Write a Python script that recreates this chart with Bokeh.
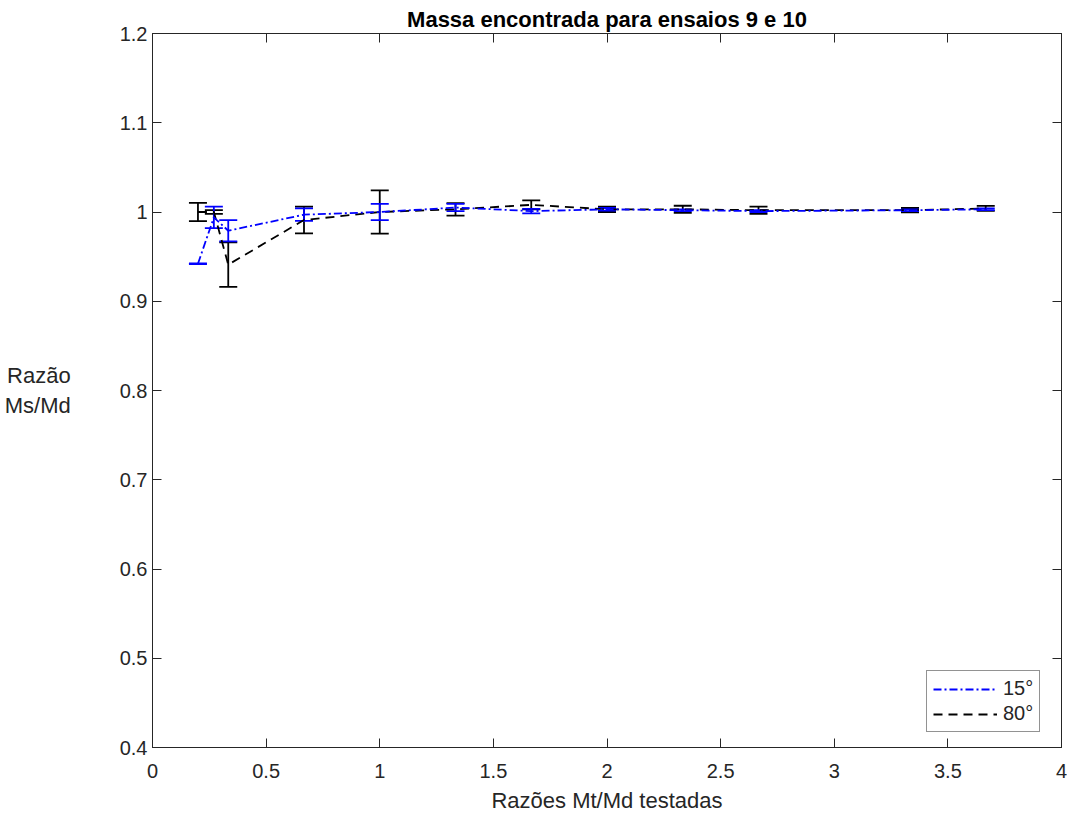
from bokeh.plotting import figure
from bokeh.models import (ColumnDataSource, Whisker, TeeHead, Range1d, LinearAxis,
                          FixedTicker, Label, Legend, LegendItem)
from bokeh.embed import file_html
from bokeh.resources import INLINE

# ---- data ----
x_vals = [0.2, 0.27, 1/3, 2/3, 1.0, 4/3, 5/3, 2.0, 7/3, 8/3, 10/3, 11/3]
y_15 = [0.942, 0.994, 0.979, 0.997, 1.000, 1.005, 1.001, 1.003, 1.002, 1.001, 1.002, 1.003]
err_15 = [0.0005, 0.012, 0.012, 0.007, 0.009, 0.004, 0.0025, 0.0015, 0.001, 0.001, 0.001, 0.001]
y_80 = [1.000, 1.000, 0.941, 0.991, 1.000, 1.003, 1.008, 1.003, 1.003, 1.002, 1.002, 1.004]
err_80 = [0.0103, 0.002, 0.025, 0.015, 0.0243, 0.007, 0.005, 0.003, 0.004, 0.004, 0.0025, 0.0028]

x_ticks = [0, 0.5, 1, 1.5, 2, 2.5, 3, 3.5, 4]
x_tick_labels = ["0", "0.5", "1", "1.5", "2", "2.5", "3", "3.5", "4"]
y_ticks = [0.4, 0.5, 0.6, 0.7, 0.8, 0.9, 1.0, 1.1, 1.2]
y_tick_labels = ["0.4", "0.5", "0.6", "0.7", "0.8", "0.9", "1", "1.1", "1.2"]

title_text = "Massa encontrada para ensaios 9 e 10"
x_label = "Razões Mt/Md testadas"
y_label = "Razão\nMs/Md"
series_names = ["15°", "80°"]

FONT = "Liberation Sans"
AX = "#262626"

p = figure(frame_width=909, frame_height=714, output_backend="svg", toolbar_location=None,
           x_range=Range1d(0, 4), y_range=Range1d(0.4, 1.2),
           min_border_left=152, min_border_right=6, min_border_top=33, min_border_bottom=69)
p.background_fill_color = "white"
p.border_fill_color = "white"
p.outline_line_color = AX
p.xgrid.visible = False
p.ygrid.visible = False

p.title.text = title_text
p.title.text_font = FONT
p.title.text_font_size = "22px"
p.title.text_font_style = "bold"
p.title.text_color = "black"
p.title.align = "center"
p.title.standoff = 4


def style_axis(ax, ticks, labels, show_labels=True):
    ax.ticker = FixedTicker(ticks=ticks)
    ax.major_tick_in = 9
    ax.major_tick_out = 0
    ax.minor_tick_in = 0
    ax.minor_tick_out = 0
    ax.axis_line_color = AX
    ax.major_tick_line_color = AX
    ax.major_label_text_color = AX
    ax.major_label_text_font = FONT
    if show_labels:
        ax.major_label_overrides = {t: l for t, l in zip(ticks, labels)}
        ax.major_label_text_font_size = "20px"
    else:
        ax.major_label_overrides = {t: "" for t in ticks}
        ax.major_label_text_font_size = "1px"
        ax.major_label_standoff = 0


style_axis(p.xaxis[0], x_ticks, x_tick_labels)
p.xaxis[0].major_label_standoff = 16
p.xaxis[0].axis_label = x_label
p.xaxis[0].axis_label_text_font = FONT
p.xaxis[0].axis_label_text_font_size = "22px"
p.xaxis[0].axis_label_text_font_style = "normal"
p.xaxis[0].axis_label_text_color = AX
p.xaxis[0].axis_label_standoff = 7

style_axis(p.yaxis[0], y_ticks, y_tick_labels)
p.yaxis[0].major_label_standoff = 5

top_ax = LinearAxis()
style_axis(top_ax, x_ticks, x_tick_labels, show_labels=False)
p.add_layout(top_ax, "above")
right_ax = LinearAxis()
style_axis(right_ax, y_ticks, y_tick_labels, show_labels=False)
p.add_layout(right_ax, "right")

# y label, horizontal, left of the tick labels
yax = p.yaxis[0]
if "axis_label_orientation" in yax.properties():
    yax.axis_label = y_label
    yax.axis_label_orientation = "horizontal"
    yax.axis_label_text_font = FONT
    yax.axis_label_text_font_size = "22px"
    yax.axis_label_text_font_style = "normal"
    yax.axis_label_text_color = AX
    yax.axis_label_standoff = 46
    yax.axis_label_text_align = "center"
else:
    p.add_layout(Label(x=-0.497, y=0.827, text=y_label, text_align="center",
                       text_baseline="middle", text_font=FONT, text_font_size="22px",
                       text_color=AX, text_line_height=1.25))

src15 = ColumnDataSource(dict(x=x_vals, y=y_15,
                              lo=[a - b for a, b in zip(y_15, err_15)],
                              hi=[a + b for a, b in zip(y_15, err_15)]))
src80 = ColumnDataSource(dict(x=x_vals, y=y_80,
                              lo=[a - b for a, b in zip(y_80, err_80)],
                              hi=[a + b for a, b in zip(y_80, err_80)]))

# 80° (black, dashed) drawn first
l80 = p.line("x", "y", source=src80, line_color="black", line_width=1.8, line_dash="9 6")
w80 = Whisker(source=src80, base="x", upper="hi", lower="lo", line_color="black", line_width=1.8,
              upper_head=TeeHead(size=18, line_color="black", line_width=1.8),
              lower_head=TeeHead(size=18, line_color="black", line_width=1.8))
p.add_layout(w80)

# 15° (blue, dash-dot)
l15 = p.line("x", "y", source=src15, line_color="#0000FF", line_width=1.8, line_dash="8 3 2 3")
w15 = Whisker(source=src15, base="x", upper="hi", lower="lo", line_color="#0000FF", line_width=1.8,
              upper_head=TeeHead(size=18, line_color="#0000FF", line_width=1.8),
              lower_head=TeeHead(size=18, line_color="#0000FF", line_width=1.8))
p.add_layout(w15)

legend = Legend(items=[LegendItem(label=series_names[0], renderers=[l15]),
                       LegendItem(label=series_names[1], renderers=[l80])],
                location=(774, 15))
legend.label_text_font = FONT
legend.label_text_font_size = "20px"
legend.label_text_color = AX
legend.border_line_color = AX
legend.border_line_width = 1
legend.background_fill_color = "white"
legend.background_fill_alpha = 1
legend.glyph_width = 64
legend.glyph_height = 20
legend.label_height = 20
legend.padding = 6
legend.spacing = 2
legend.label_standoff = 6
legend.margin = 0
p.add_layout(legend)

open("out.html", "w").write(file_html(p, INLINE))
